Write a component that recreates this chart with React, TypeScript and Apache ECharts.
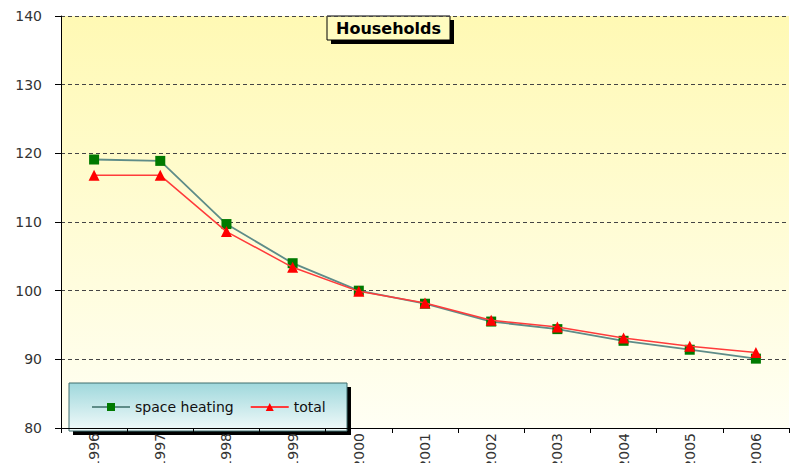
import React, { useEffect, useRef } from "react";
import * as echarts from "echarts";

const categories = ["1996", "1997", "1998", "1999", "2000", "2001", "2002", "2003", "2004", "2005", "2006"];
const spaceHeating = [119.1, 118.9, 109.7, 104.0, 100.0, 98.1, 95.5, 94.4, 92.7, 91.4, 90.1];
const total = [116.8, 116.8, 108.6, 103.4, 99.9, 98.2, 95.7, 94.7, 93.1, 91.9, 91.0];
const yTicks = { min: 80, max: 140, interval: 10 };
const titleText = "Households";
const seriesNames = ["space heating", "total"];

export default function App() {
  const ref = useRef<HTMLDivElement>(null);
  useEffect(() => {
    if (!ref.current) return;
    const chart = echarts.init(ref.current, null, { renderer: "svg" });
    chart.setOption({
      animation: false,
      backgroundColor: "#ffffff",
      grid: {
        left: 61,
        right: 5,
        top: 16,
        bottom: 35,
        containLabel: false,
        outerBoundsMode: "none",
        show: true,
        borderWidth: 0,
        backgroundColor: new echarts.graphic.LinearGradient(0, 0, 0, 1, [
          { offset: 0, color: "#FFF9B4" },
          { offset: 1, color: "#FFFFF4" },
        ]),
      },
      xAxis: {
        type: "category",
        data: categories,
        boundaryGap: true,
        axisLine: { lineStyle: { color: "#000", width: 1 } },
        axisTick: { show: true, length: 5, lineStyle: { color: "#000" } },
        axisLabel: {
          rotate: 90,
          color: "#333",
          fontSize: 14,
          fontFamily: "DejaVu Sans",
          margin: 5,
        },
        splitLine: { show: false },
      },
      yAxis: {
        type: "value",
        min: yTicks.min,
        max: yTicks.max,
        interval: yTicks.interval,
        axisLine: { show: true, lineStyle: { color: "#000", width: 1 } },
        axisTick: { show: true, length: 6, lineStyle: { color: "#000" } },
        axisLabel: {
          color: "#333",
          fontSize: 14,
          fontFamily: "DejaVu Sans",
          margin: 19,
        },
        splitLine: { show: true, lineStyle: { color: "#444", type: [4, 3], width: 1 } },
      },
      legend: {
        left: 86,
        top: 395,
        z: 20,
        itemWidth: 38,
        itemHeight: 10,
        itemGap: 16,
        textStyle: { color: "#111", fontSize: 14, fontFamily: "DejaVu Sans" },
        data: seriesNames,
      },
      graphic: [
        {
          type: "group",
          z: 15,
          children: [
            { type: "rect", shape: { x: 73, y: 387, width: 278, height: 48 }, style: { fill: "#000" } },
            {
              type: "rect",
              shape: { x: 69, y: 383, width: 278, height: 48 },
              style: {
                fill: new echarts.graphic.LinearGradient(0, 0, 0, 1, [
                  { offset: 0, color: "#9FD8DC" },
                  { offset: 1, color: "#F2FAFA" },
                ]),
                stroke: "#3F6F6F",
                lineWidth: 1,
              },
            },
          ],
        },
        {
          type: "group",
          z: 15,
          children: [
            { type: "rect", shape: { x: 331, y: 20, width: 123, height: 24 }, style: { fill: "#000" } },
            {
              type: "rect",
              shape: { x: 327, y: 16, width: 123, height: 24 },
              style: { fill: "#FFFCC0", stroke: "#000", lineWidth: 1 },
            },
            {
              type: "text",
              x: 388.5,
              y: 28.5,
              style: {
                text: titleText,
                fill: "#000",
                font: "bold 16px 'DejaVu Sans'",
                align: "center",
                verticalAlign: "middle",
              },
            },
          ],
        },
      ],
      series: [
        {
          name: seriesNames[0],
          type: "line",
          data: spaceHeating,
          symbol: "rect",
          symbolSize: 10,
          itemStyle: { color: "#007A00" },
          lineStyle: { color: "#5E8C88", width: 1.8 },
          z: 3,
        },
        {
          name: seriesNames[1],
          type: "line",
          data: total,
          symbol: "triangle",
          symbolSize: 11,
          itemStyle: { color: "#FF0000" },
          lineStyle: { color: "#FF3B3B", width: 1.5 },
          z: 4,
        },
      ],
    });
    return () => chart.dispose();
  }, []);
  return (
    <div
      ref={ref}
      style={{ position: "fixed", left: 0, top: 0, width: 794, height: 463 }}
    />
  );
}
